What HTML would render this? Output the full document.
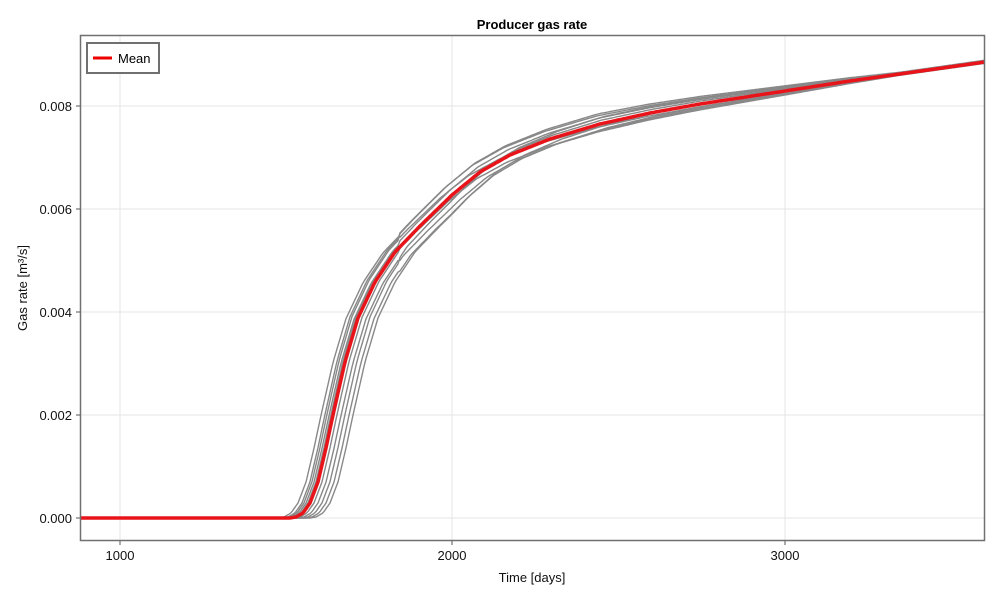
<!DOCTYPE html>
<html><head><meta charset="utf-8"><style>
body{margin:0;background:#fff;font-family:"Liberation Sans",sans-serif;}
svg text{font-family:"Liberation Sans",sans-serif;}
</style></head><body>
<svg id="s" width="1000" height="600" viewBox="0 0 1000 600" xmlns="http://www.w3.org/2000/svg">
<rect width="1000" height="600" fill="#fff"/>
<text x="532" y="29" font-size="13" font-weight="bold" text-anchor="middle">Producer gas rate</text>
<g stroke="#e6e6e6" stroke-width="1">
<line x1="120" y1="36" x2="120" y2="540"/><line x1="452" y1="36" x2="452" y2="540"/><line x1="785" y1="36" x2="785" y2="540"/>
<line x1="80" y1="518" x2="985" y2="518"/><line x1="80" y1="415" x2="985" y2="415"/><line x1="80" y1="312" x2="985" y2="312"/><line x1="80" y1="209" x2="985" y2="209"/><line x1="80" y1="106" x2="985" y2="106"/>
</g>
<g id="curves"></g>
<rect x="80.5" y="35.5" width="904" height="505" fill="none" stroke="#707070" stroke-width="1.5"/>
<g stroke="#707070" stroke-width="1.2">
<line x1="120" y1="541" x2="120" y2="545"/><line x1="452" y1="541" x2="452" y2="545"/><line x1="785" y1="541" x2="785" y2="545"/>
<line x1="76" y1="518" x2="80" y2="518"/><line x1="76" y1="415" x2="80" y2="415"/><line x1="76" y1="312" x2="80" y2="312"/><line x1="76" y1="209" x2="80" y2="209"/><line x1="76" y1="106" x2="80" y2="106"/>
</g>
<g font-size="13" fill="#111">
<text x="120" y="560" text-anchor="middle">1000</text><text x="452" y="560" text-anchor="middle">2000</text><text x="785" y="560" text-anchor="middle">3000</text>
<text x="72" y="523" text-anchor="end">0.000</text><text x="72" y="420" text-anchor="end">0.002</text><text x="72" y="317" text-anchor="end">0.004</text><text x="72" y="214" text-anchor="end">0.006</text><text x="72" y="111" text-anchor="end">0.008</text>
<text x="532" y="582" text-anchor="middle">Time [days]</text>
<text transform="translate(27,288) rotate(-90)" text-anchor="middle">Gas rate [m³/s]</text>
</g>
<rect x="87" y="43" width="72" height="30" fill="#fff" stroke="#707070" stroke-width="2"/>
<line x1="93" y1="58" x2="112" y2="58" stroke="#e00" stroke-width="3"/>
<text x="118" y="63" font-size="13">Mean</text>
</svg>
<script>
var P=[[80,518],[290,518],[296,517],[303,513],[310,503],[318,482],[326,448],[333,415],[345,362],[358,318],[375,282],[395,252],[420,226],[452,195],[480,172],[510,155],[550,139],[600,124],[650,113],[700,104],[785,91],[850,81],[985,62]];
function m(x){if(x<=P[0][0])return P[0][1];for(var i=1;i<P.length;i++){if(x<=P[i][0]){var a=P[i-1],b=P[i];return a[1]+(b[1]-a[1])*(x-a[0])/(b[0]-a[0]);}}return P[P.length-1][1];}
function path(f){var d="";for(var x=80;x<=985;x+=2){d+=(x==80?"M":"L")+x+","+f(x).toFixed(1);}return d;}
var D=[[-12,-0.01],[-8,0.02],[-4,-0.02],[-2,0.015],[4,0.01],[8,-0.015],[12,0.02],[16,-0.01],[20,0.0],[-6,0.025]];
var g=document.getElementById("curves"),h="";
D.forEach(function(p){var d=p[0],e=p[1];h+='<path d="'+path(function(x){var w=x<450?1:(x>700?0.1:1-0.9*(x-450)/250);var y=m(x-d*w);var amp=518-y;var k=x<400?0.3:(x<600?1:(x>900?0.15:1-0.85*(x-600)/300));return 518-amp*(1+e*k);})+'" fill="none" stroke="#888" stroke-width="1.4"/>';});
h+='<path d="'+path(m)+'" fill="none" stroke="#e8141a" stroke-width="3.5"/>';
g.innerHTML=h;
</script>
</body></html>
